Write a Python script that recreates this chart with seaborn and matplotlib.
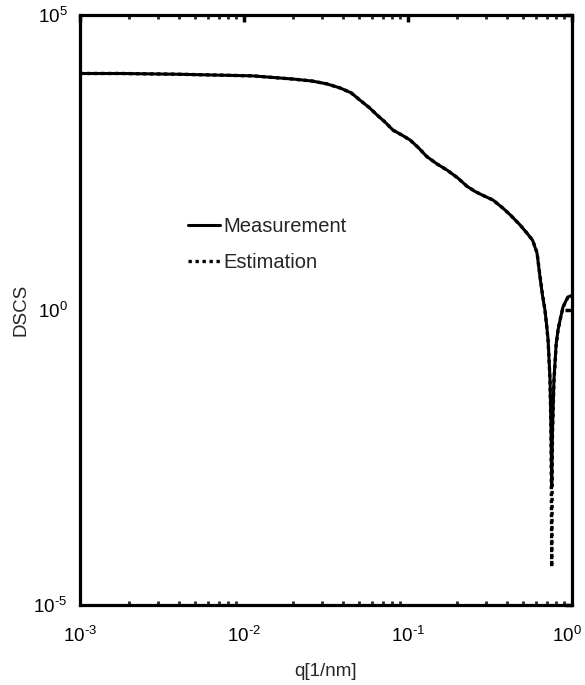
import numpy as np
import pandas as pd
import matplotlib
matplotlib.use("Agg")
import matplotlib.pyplot as plt
import matplotlib.ticker as mticker
import matplotlib.transforms as mtransforms
import seaborn as sns

q_meas = [0.001, 0.0018, 0.004, 0.0113, 0.02, 0.026, 0.032, 0.0385, 0.045, 0.051,
          0.058, 0.065, 0.073, 0.081, 0.092, 0.103, 0.116, 0.13, 0.15, 0.173,
          0.2, 0.229, 0.255, 0.283, 0.33, 0.38, 0.42, 0.48, 0.532, 0.575,
          0.612, 0.638, 0.66, 0.684, 0.70, 0.715, 0.735, 0.745, 0.752, 0.76,
          0.776, 0.80, 0.822, 0.85, 0.881, 0.915, 0.946, 0.99]
dscs_meas = [1.02e4, 1.02e4, 9.9e3, 9.3e3, 8.2e3, 7.6e3, 6.8e3, 5.8e3, 4.8e3, 3.6e3,
             2.7e3, 2.0e3, 1.5e3, 1.12e3, 920, 760, 560, 400, 300, 235,
             175, 125, 103, 89, 73, 53, 41, 28, 20, 15.2,
             9.2, 3.6, 1.8, 1.0, 0.56, 0.31, 0.065, 9.3e-3, 1.0e-3, 9.0e-3,
             0.065, 0.26, 0.46, 0.72, 1.12, 1.4, 1.66, 1.75]

# estimated curve, follows the measurement but dips deeper at the minimum
q_est = [0.001, 0.0018, 0.004, 0.0113, 0.02, 0.026, 0.032, 0.0385, 0.045, 0.051,
         0.058, 0.065, 0.073, 0.081, 0.092, 0.103, 0.116, 0.13, 0.15, 0.173,
         0.2, 0.229, 0.255, 0.283, 0.33, 0.38, 0.42, 0.48, 0.532, 0.575,
         0.612, 0.638, 0.66, 0.684, 0.70, 0.715, 0.735, 0.745, 0.7525, 0.76,
         0.776, 0.80, 0.822, 0.85, 0.881, 0.915, 0.946, 0.99]
dscs_est = [1.02e4, 1.02e4, 9.9e3, 9.3e3, 8.2e3, 7.6e3, 6.8e3, 5.8e3, 4.8e3, 3.6e3,
            2.7e3, 2.0e3, 1.5e3, 1.12e3, 920, 760, 560, 400, 300, 235,
            175, 125, 103, 89, 73, 53, 41, 28, 20, 15.2,
            9.4, 3.8, 1.9, 1.0, 0.55, 0.30, 0.06, 8.0e-3, 4.4e-5, 8.0e-3,
            0.06, 0.25, 0.45, 0.72, 1.1, 1.4, 1.65, 1.75]

x_ticks = [1e-3, 1e-2, 1e-1, 1e0]
y_ticks = [1e-5, 1e0, 1e5]

df_meas = pd.DataFrame({"q": q_meas, "DSCS": dscs_meas})
df_est = pd.DataFrame({"q": q_est, "DSCS": dscs_est})

sns.set_style("white")
plt.rcParams["font.family"] = ["Liberation Sans", "DejaVu Sans"]
plt.rcParams["mathtext.fontset"] = "custom"
plt.rcParams["mathtext.rm"] = "Liberation Sans"
plt.rcParams["mathtext.it"] = "Liberation Sans:italic"
plt.rcParams["mathtext.bf"] = "Liberation Sans:bold"


def pow_label(v, pos):
    # hyphen instead of minus sign, like the original figure
    e = int(round(np.log10(v)))
    return r"$10^{\text{%d}}$" % e


fig = plt.figure(figsize=(5.85, 6.85), dpi=100)
ax = fig.add_axes([80 / 585, 1 - 605 / 685, 492 / 585, 590 / 685])

sns.lineplot(data=df_est, x="q", y="DSCS", ax=ax, color="black", lw=2.4,
             linestyle=(0, (1, 1.1)), label="Estimation", sort=False)
sns.lineplot(data=df_meas, x="q", y="DSCS", ax=ax, color="black", lw=2.2,
             label="Measurement", sort=False)

ax.set_xscale("log")
ax.set_yscale("log")
ax.set_xlim(1e-3, 1e0)
ax.set_ylim(1e-5, 1e5)
ax.set_xticks(x_ticks)
ax.set_yticks(y_ticks)
ax.xaxis.set_major_formatter(mticker.FuncFormatter(pow_label))
ax.yaxis.set_major_formatter(mticker.FuncFormatter(pow_label))
ax.xaxis.set_minor_locator(mticker.LogLocator(base=10, subs=np.arange(2, 10)))
ax.yaxis.set_minor_locator(mticker.NullLocator())
ax.xaxis.set_minor_formatter(mticker.NullFormatter())

for s in ax.spines.values():
    s.set_linewidth(2.3)
    s.set_color("black")

ax.tick_params(axis="both", which="major", direction="in", length=5, width=2.5,
               top=True, right=True, labelsize=13.5, colors="black")
ax.tick_params(axis="x", which="major", pad=15)
ax.tick_params(axis="y", which="major", pad=9)
ax.tick_params(axis="x", which="minor", direction="in", length=3, width=2,
               top=True, bottom=True)

ax.set_xlabel("q[1/nm]", fontsize=13.5, labelpad=12)
ax.set_ylabel("DSCS", fontsize=13.5, labelpad=3)

handles, labels = ax.get_legend_handles_labels()
order = [labels.index("Measurement"), labels.index("Estimation")]
ax.legend([handles[i] for i in order], [labels[i] for i in order],
          loc="center left", bbox_to_anchor=(0.2195, 0.611), frameon=False,
          fontsize=14.5, handlelength=1.6, handletextpad=0.15,
          labelspacing=0.8, borderpad=0, borderaxespad=0)

# the last x label sits a little to the left so it stays inside the figure
fig.canvas.draw()
last = ax.get_xticklabels()[-1]
last.set_transform(last.get_transform() +
                   mtransforms.ScaledTranslation(-5 / 100, 0, fig.dpi_scale_trans))

fig.savefig("out.png", dpi=100)
